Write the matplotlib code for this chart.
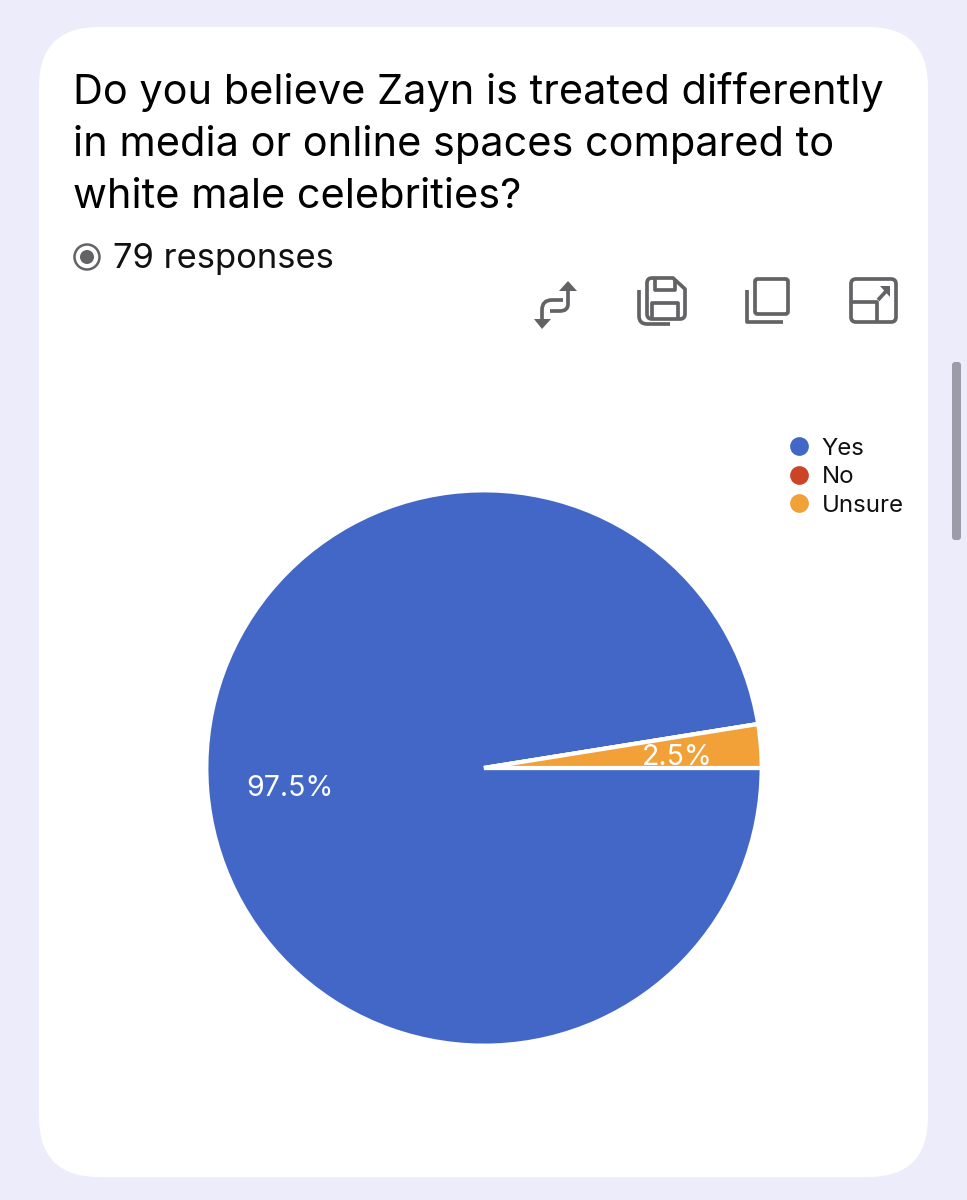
# File: plot.py

import matplotlib
matplotlib.use("Agg")
import matplotlib.pyplot as plt
from matplotlib.lines import Line2D
from matplotlib.patches import Circle, FancyBboxPatch, PathPatch
from matplotlib.path import Path

plt.rcParams["font.family"] = ["Inter", "DejaVu Sans"]

# chart values
categories = ["Yes", "No", "Unsure"]
responses = [77, 0, 2]
colors = ["#4267C6", "#CC4326", "#F2A038"]

title_lines = [
    "Do you believe Zayn is treated differently",
    "in media or online spaces compared to",
    "white male celebrities?",
]
count_label = "79 responses"

WIDTH = 967
HEIGHT = 1200
PAGE = "#ECECFA"
ICON = "#636366"


def stroke(ax, verts, codes=None, lw=3.7):
    """Draw an open outline given in pixel coordinates."""
    if codes is None:
        codes = [Path.MOVETO] + [Path.LINETO] * (len(verts) - 1)
    ax.add_patch(PathPatch(Path(verts, codes), fc="none", ec=ICON,
                           lw=lw * 0.72, capstyle="butt", joinstyle="round"))


def fill(ax, verts):
    ax.add_patch(PathPatch(Path(verts + [verts[0]], closed=True), fc=ICON, ec="none"))


def rounded(ax, x, y, w, h, r, lw=3.7):
    ax.add_patch(FancyBboxPatch((x + r, y + r), w - 2 * r, h - 2 * r,
                                boxstyle=f"round,pad={r},rounding_size={r}",
                                fc="none", ec=ICON, lw=lw * 0.72))


def draw_icons(ax):
    # swap rows and columns
    c3 = Path.CURVE3
    stroke(ax, [(568, 291), (568, 304), (568, 311), (560, 311), (550, 311)],
           [Path.MOVETO, Path.LINETO, c3, c3, Path.LINETO])
    stroke(ax, [(563, 300), (552, 300), (542, 300), (542, 310), (542, 320)],
           [Path.MOVETO, Path.LINETO, c3, c3, Path.LINETO])
    fill(ax, [(568, 281), (577, 291), (559, 291)])
    fill(ax, [(542, 329), (534, 319), (551, 319)])

    # save
    stroke(ax, [(652, 278), (673, 278), (685, 289), (685, 314), (685, 319), (680, 319),
                (652, 319), (647, 319), (647, 314), (647, 283), (647, 278), (652, 278)],
           [Path.MOVETO, Path.LINETO, Path.LINETO, Path.LINETO, c3, c3,
            Path.LINETO, c3, c3, Path.LINETO, c3, c3])
    stroke(ax, [(655, 279), (655, 290), (675, 290), (675, 280)])
    stroke(ax, [(652, 318), (652, 303), (678, 303), (678, 318)])
    stroke(ax, [(639, 290), (639, 316), (639, 324), (647, 324), (670, 324)],
           [Path.MOVETO, Path.LINETO, c3, c3, Path.LINETO])

    # copy
    rounded(ax, 755, 279, 33, 35, 2.5)
    stroke(ax, [(747, 290), (747, 322), (783, 322)])

    # explore
    rounded(ax, 851, 279, 45, 43, 5)
    stroke(ax, [(851, 302), (877, 302), (877, 322)])
    stroke(ax, [(878, 300), (889, 288)])
    fill(ax, [(880, 286), (890, 286), (890, 297)])


def main():
    fig = plt.figure(figsize=(WIDTH / 100, HEIGHT / 100), dpi=100, facecolor=PAGE)

    # page furniture, laid out in pixels
    bg = fig.add_axes([0, 0, 1, 1])
    bg.set_xlim(0, WIDTH)
    bg.set_ylim(HEIGHT, 0)
    bg.axis("off")
    bg.add_patch(FancyBboxPatch((39 + 60, 27 + 60), 889 - 120, 1150 - 120,
                                boxstyle="round,pad=60,rounding_size=60",
                                fc="white", ec="none"))
    bg.add_patch(FancyBboxPatch((955, 365), 3, 172,
                                boxstyle="round,pad=3,rounding_size=3",
                                fc="#9C9CA8", ec="none"))

    for i, line in enumerate(title_lines):
        bg.text(73, 104 + i * 52, line, fontsize=29.85, color="black",
                ha="left", va="baseline")
    bg.add_patch(Circle((87, 257), 12.5, fc="none", ec=ICON, lw=1.8))
    bg.add_patch(Circle((87, 257), 7, fc=ICON, ec="none"))
    bg.text(113, 268, count_label, fontsize=24.9, color="#111111",
            ha="left", va="baseline")
    draw_icons(bg)

    # the pie: centre (484, 768), radius 276, with a little room for its white edge
    pad = 8
    ax = fig.add_axes([(208 - pad) / WIDTH, 1 - (1044 + pad) / HEIGHT,
                       (552 + 2 * pad) / WIDTH, (552 + 2 * pad) / HEIGHT])
    wedges, _, autotexts = ax.pie(
        responses,
        colors=colors,
        startangle=0,
        counterclock=False,
        radius=1.006,
        autopct=lambda p: f"{p:.1f}%" if p > 0 else "",
        pctdistance=0.70,
        wedgeprops={"edgecolor": "white", "linewidth": 3.0},
        textprops={"color": "white", "fontsize": 20.5},
    )
    lim = (276 + pad) / 276
    ax.set_xlim(-lim, lim)
    ax.set_ylim(-lim, lim)
    # labels sit a few pixels under the slice centre
    for t in autotexts:
        x, y = t.get_position()
        t.set_position((x, y - 0.018))

    handles = [
        Line2D([], [], linestyle="none", marker="o", markersize=13.5,
               markerfacecolor=c, markeredgecolor="none")
        for c in colors
    ]
    fig.legend(handles, categories, loc="upper left",
               bbox_to_anchor=(782.5 / WIDTH, 1 - 433 / HEIGHT),
               frameon=False, fontsize=17.3, labelspacing=0.27,
               handletextpad=0.42, handlelength=1.0, borderpad=0.2,
               borderaxespad=0, labelcolor="#111111")

    fig.savefig("out.png", dpi=100, facecolor=PAGE)


if __name__ == "__main__":
    main()
